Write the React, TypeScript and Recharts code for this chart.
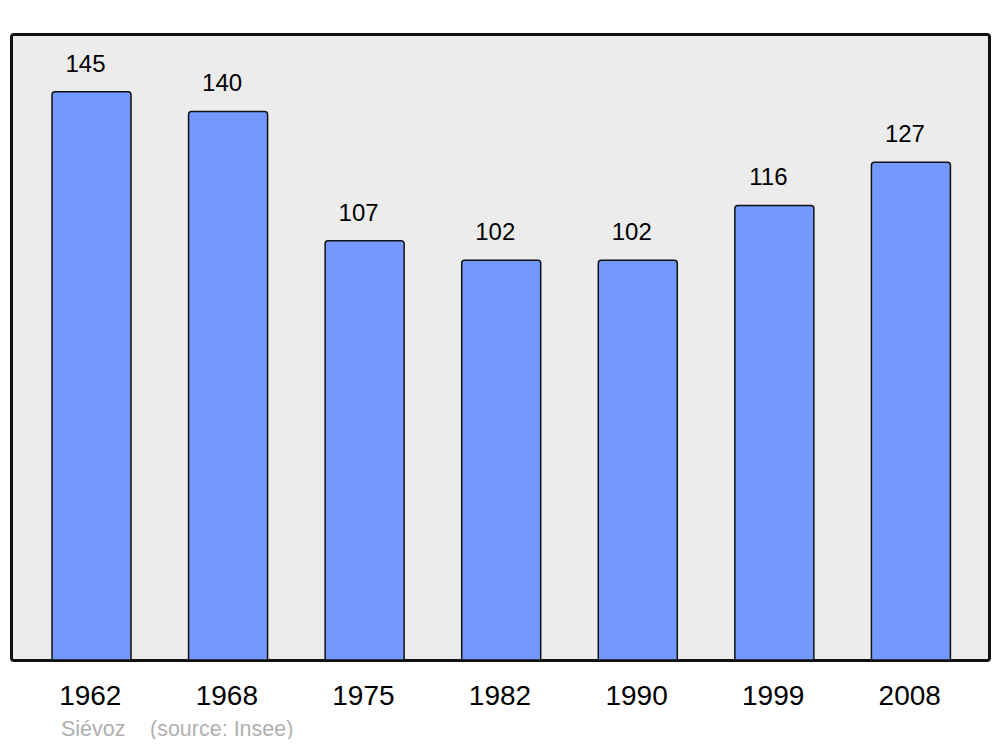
import React from "react";
import { BarChart, Bar, XAxis, YAxis, LabelList } from "recharts";

const years = ["1962", "1968", "1975", "1982", "1990", "1999", "2008"];
const population = [145, 140, 107, 102, 102, 116, 127];

const data = years.map((year, i) => ({ year, pop: population[i] }));

const FONT = '"Liberation Sans", Arial, sans-serif';

function YearTick(props: any) {
  const { x, y, payload } = props;
  return (
    <text x={x - 1} y={y + 45} textAnchor="middle" fontSize={28} fontFamily={FONT} fill="#000">
      {payload.value}
    </text>
  );
}

function ValueLabel(props: any) {
  const { x, y, width, value } = props;
  return (
    <text x={x + width / 2 - 6} y={y - 20} textAnchor="middle" fontSize={24} fontFamily={FONT} fill="#000">
      {value}
    </text>
  );
}

export default function App() {
  return (
    <div style={{ position: "relative", width: 1000, height: 747, margin: -8, background: "#fff" }}>
      <div
        style={{
          position: "absolute",
          left: 9.5,
          top: 32.5,
          width: 981,
          height: 629,
          background: "#ececec",
          border: "3px solid #111",
          borderRadius: 4,
          boxSizing: "border-box",
        }}
      />
      <div style={{ position: "absolute", left: 0, top: 0 }}>
        <BarChart width={1000} height={747} data={data} margin={{ top: 33, right: 11, bottom: 0, left: 11 }}>
          <XAxis
            dataKey="year"
            axisLine={false}
            tickLine={false}
            tickSize={0}
            tickMargin={0}
            height={87}
            padding={{ left: 12, right: 10 }}
            tick={<YearTick />}
            interval={0}
          />
          <YAxis hide domain={[0, 160]} />
          <Bar
            dataKey="pop"
            fill="#7399ff"
            stroke="#111"
            strokeWidth={1.5}
            barSize={79}
            radius={[3, 3, 0, 0]}
            isAnimationActive={false}
          >
            <LabelList dataKey="pop" content={<ValueLabel />} />
          </Bar>
        </BarChart>
      </div>
      <div style={{ position: "absolute", left: 61, top: 717, fontFamily: FONT, fontSize: 21.5, color: "#b0b0b0" }}>
        Siévoz
      </div>
      <div style={{ position: "absolute", left: 150, top: 717, fontFamily: FONT, fontSize: 21.5, color: "#b0b0b0" }}>
        (source: Insee)
      </div>
    </div>
  );
}
